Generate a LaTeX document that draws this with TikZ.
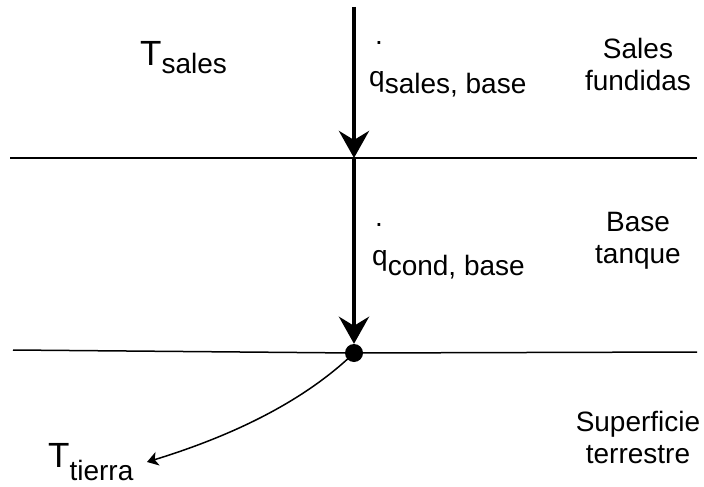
\documentclass[tikz,border=0pt]{standalone}
\usepackage{fontspec}
\setmainfont{Liberation Sans}
\usetikzlibrary{arrows.meta}
\begin{document}
\begin{tikzpicture}[x=1pt,y=-1pt,
  lbl/.style={inner sep=0pt, font=\fontsize{28}{32}\selectfont},
  big/.style={inner sep=0pt, font=\fontsize{35}{35}\selectfont},
  layer/.style={line width=1.5pt},
  flow/.style={line width=4.5pt, -{Stealth[length=27pt,width=30pt,inset=9pt]}},
  thinflow/.style={line width=1.5pt, -{Stealth[length=11pt,width=14pt,inset=3pt]}},
  junction/.style={circle, fill=black, inner sep=0pt, minimum size=18pt}]
\useasboundingbox (0,0) rectangle (704,487);
% layer boundaries
\coordinate (L1a) at (10,158);
\coordinate (L1b) at (697,158);
\coordinate (L1m) at (354,158);
\coordinate (L2a) at (13,350);
\coordinate (L2b) at (697,352);
\coordinate (top) at (354,7);
\coordinate (ttip) at (147,462);
\node[junction] (dot) at (354,353) {};
\draw[layer] (L1a) -- (L1b);
\draw[layer] (L2a) -- (dot.center) -- (L2b);
% heat flow arrows
\draw[flow] (top) -- (L1m);
\draw[flow] (L1m) -- (dot.north);
\draw[thinflow] (dot.center) .. controls (300,405) and (225,438) .. (ttip);
% labels
\node[big, anchor=base west] (tsales) at (140,66) {T\raisebox{-8pt}{\fontsize{28}{28}\selectfont sales}};
\node[big, anchor=base west] (ttierra) at (48,467) {T\raisebox{-13pt}{\fontsize{28}{28}\selectfont tierra}};
\node[lbl, anchor=base] (dotsales) at (379,44.4) {.};
\node[lbl, anchor=base west] (qsales) at (369,86) {q\raisebox{-7pt}{sales, base}};
\node[lbl, anchor=base] (dotcond) at (379,226.4) {.};
\node[lbl, anchor=base west] (qcond) at (372,265) {q\raisebox{-10pt}{cond, base}};
\node[lbl, anchor=north, align=center] (sales) at (638,38) {Sales\\fundidas};
\node[lbl, anchor=north, align=center] (base) at (638,212) {Base\\tanque};
\node[lbl, anchor=north, align=center] (suelo) at (638,411) {Superficie\\terrestre};
\end{tikzpicture}
\end{document}
